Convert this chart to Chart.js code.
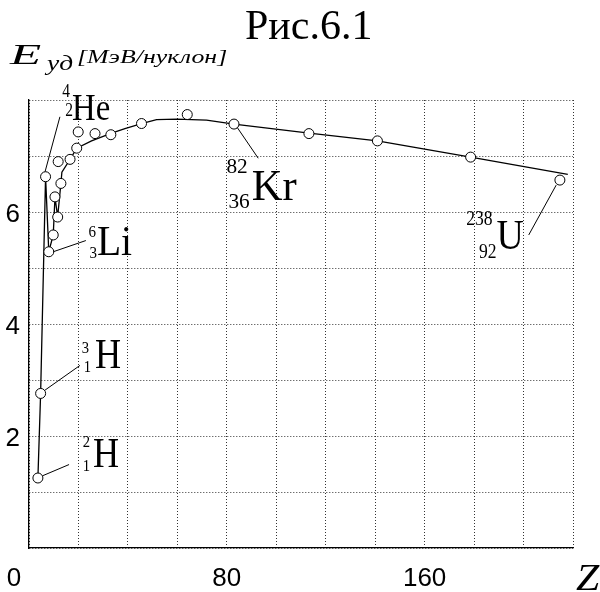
<!DOCTYPE html>
<html><head><meta charset="utf-8">
<script src="https://cdn.jsdelivr.net/npm/chart.js@4/dist/chart.umd.min.js"></script>
<style>html,body{margin:0;padding:0;background:#fff}#wrap{width:600px;height:592px;position:relative}</style>
</head><body><div id="wrap"><canvas id="c" width="600" height="592"></canvas></div>
<script>
// Fitted curve (Z, E per nucleon)
const curveZ = [3.6,4.7,6.7,8.0,9.8,10.5,11.6,12.9,13.3,16.6,19.3,25.3,33.4,38.8,45.5,51.6,59.7,71.8,82.9,113.3,140.9,178.6,217.9];
const curveE = [1.25,2.76,6.63,5.29,5.59,6.26,5.92,6.51,6.71,6.94,7.14,7.27,7.41,7.49,7.58,7.65,7.66,7.64,7.57,7.41,7.27,6.98,6.67];
// Measured nuclei (circles)
const pointZ = [3.6,4.7,6.7,8.0,9.8,10.5,11.6,12.9,11.8,16.6,19.3,19.9,26.7,33.1,45.5,64.0,82.9,113.2,140.9,178.6,214.7];
const pointE = [1.25,2.76,6.63,5.29,5.59,6.27,5.91,6.51,6.90,6.94,7.14,7.43,7.40,7.38,7.58,7.74,7.57,7.40,7.27,6.98,6.57];
// Axis tick labels
const xTickLabels = [0,80,160];
const yTickLabels = [2,4,6];
// Nuclide annotations: symbol, mass, charge, anchor (Z,E), leader line from/to (Z,E)
const nuclides = [
  {sym:'H',  A:'2',   Zs:'1',  at:[25.9,1.45], from:[5.5,1.29],   to:[16.2,1.49], size:42, dsize:17, sx:0.86, supDx:-3, supDy:-20, subDx:-3, subDy:4},
  {sym:'H',  A:'3',   Zs:'1',  at:[26.7,3.21], from:[6.5,2.82],   to:[20.6,3.26], size:42, dsize:17, sx:0.86, supDx:-6, supDy:-15, subDx:-4, subDy:4},
  {sym:'He', A:'4',   Zs:'2',  at:[17.4,7.64], from:[6.5,6.72],   to:[12.5,7.70], size:38, dsize:18, sx:0.86, supDx:-2, supDy:-23, subDx:1,  subDy:-4},
  {sym:'Li', A:'6',   Zs:'3',  at:[27.5,5.23], from:[9.8,5.29],   to:[23.0,5.49], size:42, dsize:16, sx:0.94, supDx:-1, supDy:-18, subDx:0,  subDy:3},
  {sym:'Kr', A:'82',  Zs:'36', at:[90.1,6.21], from:[84.2,7.51],  to:[92.7,6.96], size:44, dsize:22, sx:0.97, supDx:-4, supDy:-27, subDx:-2, subDy:8},
  {sym:'U',  A:'238', Zs:'92', at:[189.1,5.34],from:[213.2,6.48], to:[202.1,5.59],size:43, dsize:20, sx:0.88, supDx:-4, supDy:-24, subDx:0,  subDy:9}
];

const SERIF = "'Liberation Serif','Times New Roman',serif";
const SANS = "'Liberation Sans',Arial,sans-serif";

function txt(ctx, s, x, y, font, sx, align) {
  ctx.save();
  ctx.font = font; ctx.fillStyle = '#000'; ctx.textBaseline = 'alphabetic';
  ctx.textAlign = align || 'left';
  ctx.translate(x, y); ctx.scale(sx || 1, 1);
  ctx.fillText(s, 0, 0);
  ctx.restore();
}

const annot = {
  id: 'annot',
  afterDatasetsDraw(chart) {
    const ctx = chart.ctx, xs = chart.scales.x, ys = chart.scales.y;
    ctx.save();
    ctx.strokeStyle = '#000'; ctx.lineWidth = 1;
    nuclides.forEach(n => {
      ctx.beginPath();
      ctx.moveTo(xs.getPixelForValue(n.from[0]), ys.getPixelForValue(n.from[1]));
      ctx.lineTo(xs.getPixelForValue(n.to[0]), ys.getPixelForValue(n.to[1]));
      ctx.stroke();
      const x = xs.getPixelForValue(n.at[0]), y = ys.getPixelForValue(n.at[1]);
      txt(ctx, n.sym, x, y, n.size + 'px ' + SERIF, n.sx, 'left');
      txt(ctx, n.A, x + n.supDx, y + n.supDy, n.dsize + 'px ' + SERIF, n.sx, 'right');
      txt(ctx, n.Zs, x + n.subDx, y + n.subDy, n.dsize + 'px ' + SERIF, n.sx, 'right');
    });
    ctx.restore();
    // Title and axis titles
    txt(ctx, 'Рис.6.1', 245, 39, '42px ' + SERIF, 1, 'left');
    txt(ctx, 'E', 10, 64, 'italic 30px ' + SERIF, 1.7, 'left');
    txt(ctx, 'уд', 47, 70, 'italic 22px ' + SERIF, 1.25, 'left');
    txt(ctx, '[МэВ/нуклон]', 77, 63, 'italic 19px ' + SERIF, 1.36, 'left');
    txt(ctx, 'Z', 576, 590, 'italic 38px ' + SERIF, 1.1, 'left');
    // origin label "0"
    ctx.save();
    ctx.font = '26px ' + SANS; ctx.fillStyle = '#000'; ctx.textAlign = 'center'; ctx.textBaseline = 'middle';
    ctx.fillText(String(xTickLabels[0]), xs.left - 15, xs.bottom - 13);
    ctx.restore();
  }
};

const curve = curveZ.map((z, i) => ({x: z, y: curveE[i]}));
const pts = pointZ.map((z, i) => ({x: z, y: pointE[i]}));

new Chart(document.getElementById('c').getContext('2d'), {
  type: 'scatter',
  data: { datasets: [
    { data: pts, showLine: false, pointRadius: 5, pointBackgroundColor: '#fff', pointBorderColor: '#000', pointBorderWidth: 1, order: 1 },
    { data: curve, showLine: true, borderColor: '#000', borderWidth: 1.3, pointRadius: 0, fill: false, tension: 0, order: 2 }
  ]},
  options: {
    responsive: false, animation: false, devicePixelRatio: 1,
    layout: { padding: { top: 100, right: 27, left: 0, bottom: 0 } },
    plugins: { legend: { display: false }, tooltip: { enabled: false }, title: { display: false } },
    scales: {
      x: {
        type: 'linear', min: 0, max: 220,
        ticks: { stepSize: 20, autoSkip: false, maxRotation: 0, color: '#000', padding: 15,
          font: { family: SANS, size: 26 },
          callback: v => (v !== 0 && xTickLabels.includes(v)) ? String(v) : '' },
        grid: { color: '#333', lineWidth: 1, drawTicks: false },
        border: { display: true, color: '#000', width: 1.3, dash: [1, 2] },
        afterFit: s => { s.height = 44; }
      },
      y: {
        type: 'linear', min: 0, max: 8,
        ticks: { stepSize: 1, autoSkip: false, color: '#000', padding: 9, labelOffset: 3,
          font: { family: SANS, size: 26 },
          callback: v => yTickLabels.includes(v) ? String(v) : '' },
        grid: { color: '#333', lineWidth: 1, drawTicks: false },
        border: { display: true, color: '#000', width: 1.3, dash: [1, 2] },
        afterFit: s => { s.width = 29; }
      }
    }
  },
  plugins: [annot]
});
</script>
</body></html>
